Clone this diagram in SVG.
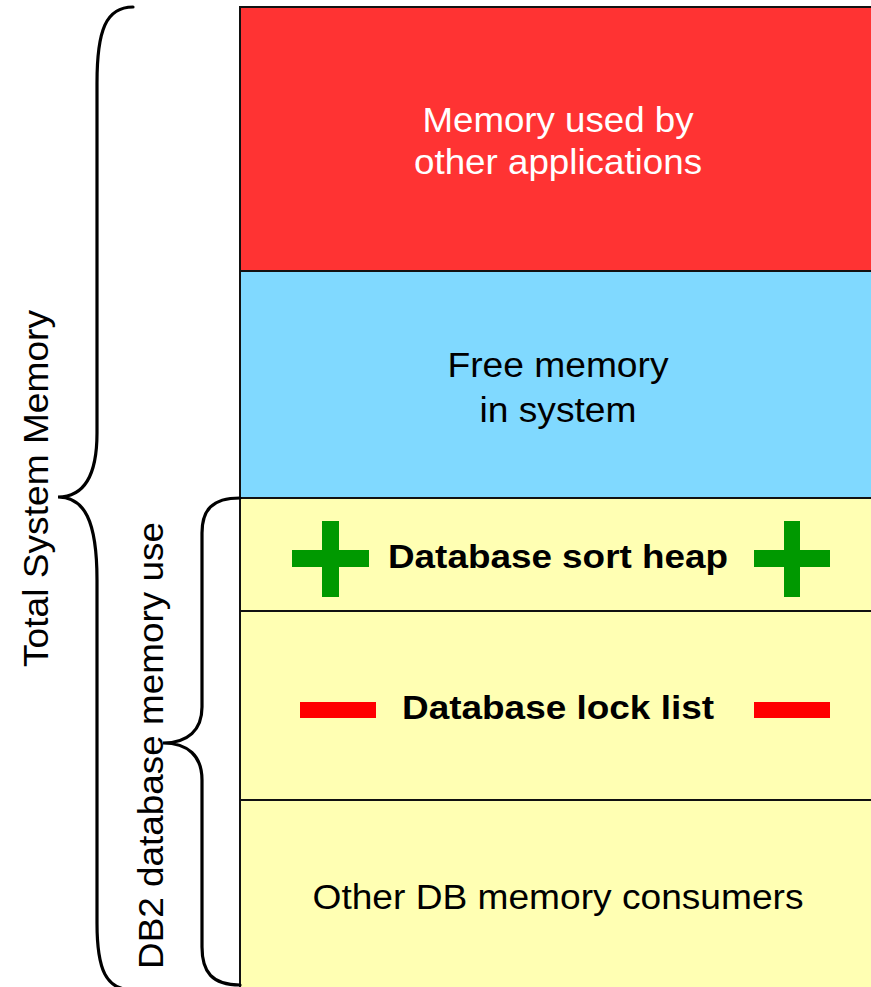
<svg xmlns="http://www.w3.org/2000/svg" width="871" height="987" viewBox="0 0 871 987">
<style>
.band{stroke:#111;stroke-width:2}
.t{font-family:"Liberation Sans",Arial,sans-serif;font-size:35px;text-anchor:middle;fill:#000}
.b{font-weight:bold;font-size:34px}
.w{fill:#fff}
.brace{fill:none;stroke:#000;stroke-width:3.2;stroke-linecap:round}
</style>
<rect width="871" height="987" fill="#fff"/>
<g id="other-apps">
<rect class="band" x="240" y="7" width="640" height="264" fill="#FF3333"/>
<text class="t w" x="558" y="132" textLength="271" lengthAdjust="spacingAndGlyphs">Memory used by</text>
<text class="t w" x="558" y="174" textLength="288" lengthAdjust="spacingAndGlyphs">other applications</text>
</g>
<g id="free-memory">
<rect class="band" x="240" y="271" width="640" height="227" fill="#80D9FF"/>
<text class="t" x="558" y="377" textLength="221" lengthAdjust="spacingAndGlyphs">Free memory</text>
<text class="t" x="558" y="422" textLength="157" lengthAdjust="spacingAndGlyphs">in system</text>
</g>
<g id="sort-heap">
<rect class="band" x="240" y="498" width="640" height="113" fill="#FFFFB3"/>
<path d="M322,521h17v76h-17z M292,550h77v17h-77z" fill="#009900"/>
<path d="M784,521h16v76h-16z M754,550h76v17h-76z" fill="#009900"/>
<text class="t b" x="558" y="568" textLength="340" lengthAdjust="spacingAndGlyphs">Database sort heap</text>
</g>
<g id="lock-list">
<rect class="band" x="240" y="611" width="640" height="189" fill="#FFFFB3"/>
<rect x="300" y="702" width="76" height="16" fill="#FF0000"/>
<rect x="754" y="702" width="76" height="16" fill="#FF0000"/>
<text class="t b" x="558" y="719" textLength="312" lengthAdjust="spacingAndGlyphs">Database lock list</text>
</g>
<g id="other-db">
<rect class="band" x="240" y="800" width="640" height="200" fill="#FFFFB3"/>
<text class="t" x="558" y="909" textLength="491" lengthAdjust="spacingAndGlyphs">Other DB memory consumers</text>
</g>
<g id="connectors">
<path class="brace" d="M133,7 C106,7 97,30 97,83 L97,433 C97,475 84,497 58,497 C84,497 97,520 97,580 L97,923 C97,970 106,990 133,990"/>
<path class="brace" d="M240,498 C212,498 202,510 202,533 L202,707 C202,730 188,743 163,743 C188,743 202,756 202,780 L202,947 C202,972 212,985 240,985"/>
</g>
<g id="total-label">
<text class="t" transform="translate(48,488.5) rotate(-90)" textLength="357" lengthAdjust="spacingAndGlyphs">Total System Memory</text>
</g>
<g id="db2-label">
<text class="t" transform="translate(163,745.5) rotate(-90)" textLength="447" lengthAdjust="spacingAndGlyphs">DB2 database memory use</text>
</g>
</svg>
